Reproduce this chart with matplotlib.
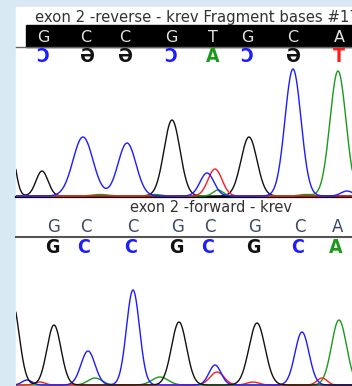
import matplotlib
matplotlib.use('Agg')
import matplotlib.pyplot as plt
from matplotlib.patches import Rectangle
import numpy as np

# base calls, reverse read (top) and forward read (bottom)
rev_title = 'exon 2 -reverse - krev Fragment bases #176'
rev_bases = ['G', 'C', 'C', 'G', 'T', 'G', 'C', 'A']
rev_pos = [43, 86, 125, 171, 213, 247, 293, 339]
# complement, drawn mirrored
rev_comp = ['\u0186', '\u04d8', '\u04d8', '\u0186', 'A', '\u0186', '\u04d8', 'T']
rev_comp_col = ['blue', 'black', 'black', 'blue', 'green', 'blue', 'black', 'red']

fwd_title = 'exon 2 -forward - krev'
fwd_bases = ['G', 'C', 'C', 'G', 'C', 'G', 'C', 'A']
fwd_pos = [54, 86, 133, 178, 210, 255, 300, 338]
fwd_call_col = ['black', 'blue', 'blue', 'black', 'blue', 'black', 'blue', 'green']

# peaks (scan position, height, width) per channel
rev_peaks = {
    'black': [(10, 53, 5), (42, 25, 6), (172, 76, 8), (249, 59, 8)],
    'blue': [(83, 59, 10), (127, 53, 9), (207, 23, 7), (293, 127, 8), (347, 5, 6)],
    'red': [(215, 27, 7)],
    'green': [(218, 6, 5), (338, 125, 8), (100, 1.5, 8), (155, 1.5, 6), (305, 1.5, 6)],
}
fwd_peaks = {
    'black': [(12, 85, 7), (54, 60, 7), (179, 63, 7.5), (257, 62, 8)],
    'blue': [(27, 5, 5), (88, 34, 7), (133, 95, 6.5), (215, 20, 6), (302, 53, 7)],
    'red': [(40, 3, 5), (217, 13, 7), (253, 3, 6), (322, 7, 5)],
    'green': [(95, 7, 7), (160, 8, 8), (339, 65, 7.5)],
}

colors = {'black': '#111111', 'blue': '#1c1cff', 'red': '#ff1c1c', 'green': '#1a9a1a'}

W, H = 352, 386
fig = plt.figure(figsize=(W / 100, H / 100), dpi=100, facecolor='#d9e9f3')


def px_axes(x0, y0, x1, y1):
    ax = fig.add_axes([x0 / W, 1 - y1 / H, (x1 - x0) / W, (y1 - y0) / H])
    ax.set_facecolor('none')
    ax.axis('off')
    return ax


def trace(x, peaks):
    y = np.zeros_like(x)
    for c, h, s in peaks:
        y += h * np.exp(-0.5 * ((x - c) / s) ** 2)
    return y


bg = px_axes(0, 0, W, H)
bg.set_xlim(0, W)
bg.set_ylim(H, 0)
bg.add_patch(Rectangle((16, 7), W - 16, H - 7, color='white'))

# reverse read header
bg.text(35, 17.5, rev_title, fontsize=10.7, color='#333333', va='center', ha='left')
bg.plot([16, W], [46.5, 46.5], color='#666666', lw=1)
bg.add_patch(Rectangle((26, 24.5), W - 26, 22, color='black'))
for b, x in zip(rev_bases, rev_pos):
    bg.text(x, 37.5, b, fontsize=11.5, color='#e6e6e6', ha='center', va='center')
for b, x, c in zip(rev_comp, rev_pos, rev_comp_col):
    bg.text(x, 57, b, fontsize=14, fontweight='bold', fontstretch='condensed',
            color=colors[c], ha='center', va='center')

# separator + forward header
bg.plot([16, W], [196.5, 196.5], color='black', lw=1.6)
bg.text(211, 207.5, fwd_title, fontsize=10.5, color='#333333', ha='center', va='center')
for b, x in zip(fwd_bases, fwd_pos):
    bg.text(x, 226.5, b, fontsize=12, color='#3d4b63', ha='center', va='center')
bg.plot([16, W], [237, 237], color='#555555', lw=1.5)
for b, x, c in zip(fwd_bases, fwd_pos, fwd_call_col):
    bg.text(x - 2, 247.5, b, fontsize=14, fontweight='bold', fontstretch='condensed',
            color=colors[c], ha='center', va='center')

xs = np.linspace(0, 360, 1200)

ax1 = px_axes(16, 58, W, 198)
ax1.set_xlim(16, W)
ax1.set_ylim(-2, 138)
for ch in ['black', 'green', 'red', 'blue']:
    ax1.plot(xs, trace(xs, rev_peaks[ch]), color=colors[ch], lw=1.0)

ax2 = px_axes(16, 250, W, H)
ax2.set_xlim(16, W)
ax2.set_ylim(-1, 135)
for ch in ['green', 'red', 'blue', 'black']:
    ax2.plot(xs, trace(xs, fwd_peaks[ch]), color=colors[ch], lw=1.0)

fig.savefig('out.png', dpi=100, facecolor=fig.get_facecolor())
